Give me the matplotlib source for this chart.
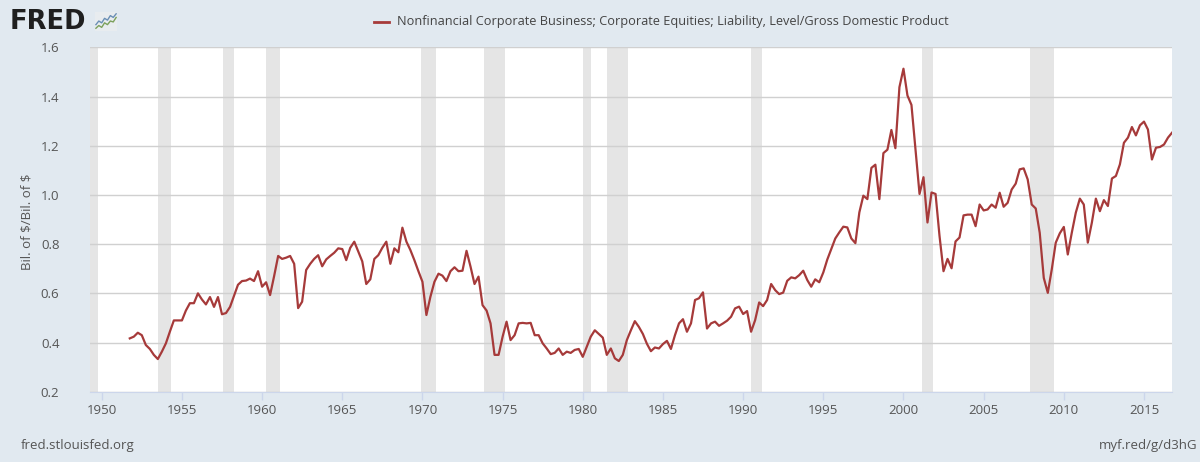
import matplotlib
matplotlib.use("Agg")
import matplotlib.pyplot as plt
import matplotlib.dates as mdates
import numpy as np
import pandas as pd

# quarterly values, 1951Q4 .. 2016Q4 (ratio of corporate equities to GDP)
start_quarter = "1951-10-01"
ratio = [
    0.417,
    0.424, 0.44, 0.43, 0.39,
    0.374, 0.35, 0.333, 0.363,
    0.397, 0.444, 0.49, 0.49,
    0.49, 0.53, 0.56, 0.56,
    0.60, 0.575, 0.555, 0.585,
    0.545, 0.585, 0.515, 0.52,
    0.545, 0.59, 0.635, 0.65,
    0.652, 0.66, 0.65, 0.69,
    0.627, 0.645, 0.593, 0.67,
    0.752, 0.74, 0.745, 0.752,
    0.72, 0.54, 0.566, 0.695,
    0.72, 0.74, 0.755, 0.71,
    0.738, 0.752, 0.765, 0.783,
    0.78, 0.735, 0.785, 0.81,
    0.77, 0.73, 0.638, 0.657,
    0.74, 0.755, 0.785, 0.81,
    0.72, 0.783, 0.767, 0.867,
    0.81, 0.776, 0.735, 0.69,
    0.647, 0.512, 0.586, 0.647,
    0.68, 0.672, 0.65, 0.69,
    0.706, 0.69, 0.692, 0.773,
    0.708, 0.638, 0.668, 0.552,
    0.53, 0.478, 0.35, 0.35,
    0.424, 0.485, 0.41, 0.43,
    0.478, 0.48, 0.478, 0.48,
    0.43, 0.43, 0.397, 0.376,
    0.353, 0.358, 0.376, 0.35,
    0.363, 0.358, 0.37, 0.374,
    0.342, 0.383, 0.424, 0.45,
    0.435, 0.42, 0.35, 0.376,
    0.336, 0.325, 0.35, 0.41,
    0.45, 0.487, 0.464, 0.435,
    0.395, 0.365, 0.38, 0.376,
    0.394, 0.407, 0.374, 0.43,
    0.478, 0.495, 0.444, 0.478,
    0.573, 0.58, 0.604, 0.457,
    0.478, 0.485, 0.468, 0.478,
    0.489, 0.505, 0.539, 0.546,
    0.516, 0.528, 0.444, 0.491,
    0.563, 0.548, 0.573, 0.638,
    0.613, 0.597, 0.603, 0.651,
    0.665, 0.661, 0.674, 0.692,
    0.654, 0.627, 0.657, 0.645,
    0.685, 0.737, 0.78, 0.823,
    0.848, 0.871, 0.868, 0.823,
    0.804, 0.929, 0.997, 0.983,
    1.11, 1.123, 0.983, 1.17,
    1.184, 1.264, 1.19, 1.438,
    1.513, 1.404, 1.366, 1.187,
    1.004, 1.072, 0.888, 1.01,
    1.004, 0.834, 0.69, 0.74,
    0.702, 0.811, 0.827, 0.917,
    0.92, 0.92, 0.873, 0.961,
    0.937, 0.941, 0.961, 0.948,
    1.009, 0.952, 0.968, 1.022,
    1.046, 1.104, 1.108, 1.063,
    0.961, 0.945, 0.846, 0.663,
    0.602, 0.697, 0.806, 0.844,
    0.87, 0.758, 0.846, 0.928,
    0.985, 0.961, 0.806, 0.887,
    0.985, 0.934, 0.979, 0.955,
    1.067, 1.077, 1.124, 1.212,
    1.233, 1.276, 1.242, 1.283,
    1.298, 1.266, 1.144, 1.192,
    1.195, 1.205, 1.233, 1.253,
]

# NBER recessions (peak month, trough month)
recessions = [
    ("1948-11-01", "1949-10-01"),
    ("1953-07-01", "1954-05-01"),
    ("1957-08-01", "1958-04-01"),
    ("1960-04-01", "1961-02-01"),
    ("1969-12-01", "1970-11-01"),
    ("1973-11-01", "1975-03-01"),
    ("1980-01-01", "1980-07-01"),
    ("1981-07-01", "1982-11-01"),
    ("1990-07-01", "1991-03-01"),
    ("2001-03-01", "2001-11-01"),
    ("2007-12-01", "2009-06-01"),
]

yticks = [0.2, 0.4, 0.6, 0.8, 1.0, 1.2, 1.4, 1.6]
series_name = "Nonfinancial Corporate Business; Corporate Equities; Liability, Level/Gross Domestic Product"
y_label = r"Bil. of \$/Bil. of \$"

# little FRED logo lines
logo_blue = [0.35, 0.55, 0.45, 0.7, 0.6, 0.85, 0.75, 0.95]
logo_green = [0.15, 0.3, 0.2, 0.45, 0.35, 0.55, 0.5, 0.75]

BG = "#e1e9f0"
LINE = "#a63a3a"
TXT = "#555555"

plt.rcParams['font.family'] = ['Open Sans', 'DejaVu Sans']

dates = pd.date_range(start_quarter, periods=len(ratio), freq="QS")

fig = plt.figure(figsize=(12, 4.62), dpi=100, facecolor=BG)
ax = fig.add_axes([0.075, 0.152, 0.9017, 0.7456])
ax.set_facecolor("white")

for s, e in recessions:
    ax.axvspan(pd.Timestamp(s), pd.Timestamp(e), color="#e5e5e5", lw=0, zorder=0)

ax.plot(dates, ratio, color=LINE, lw=1.6, zorder=3, solid_joinstyle="round")

ax.set_ylim(0.2, 1.6)
ax.set_yticks(yticks)
ax.set_yticklabels(["%.1f" % v for v in yticks])
ax.set_xlim(pd.Timestamp("1949-04-08"), dates[-1])
ax.xaxis.set_major_locator(mdates.YearLocator(5))
ax.xaxis.set_major_formatter(mdates.DateFormatter("%Y"))

ax.grid(axis="y", color="#d0d0d0", lw=1, zorder=1)
for sp in ["top", "right", "left"]:
    ax.spines[sp].set_visible(False)
ax.spines["bottom"].set_color("#ccd6eb")
ax.spines["bottom"].set_zorder(4)
ax.tick_params(axis="y", length=0, pad=22, labelsize=9.5, labelcolor=TXT)
ax.tick_params(axis="x", length=6, width=1, color="#ccd6eb", pad=3, labelsize=9.5, labelcolor=TXT)
for lab in ax.get_yticklabels():
    lab.set_horizontalalignment("right")

fig.text(0.0225, 0.52, y_label, rotation=90, ha="center", va="center", fontsize=9.5, color=TXT)

# legend / title
fig.add_artist(plt.Line2D([0.3117, 0.3245], [0.953, 0.953], color=LINE, lw=2, transform=fig.transFigure))
fig.text(0.3305, 0.953, series_name, ha="left", va="center", fontsize=9.15, color="#444444")

# FRED logo
fig.text(0.008, 0.953, "FRED", ha="left", va="center", fontsize=18.5, fontweight="heavy",
         color="#1f1f1f", family="DejaVu Sans")
lax = fig.add_axes([0.0792, 0.933, 0.0183, 0.041])
lax.set_facecolor("#e8ecef")
lax.plot(np.arange(len(logo_blue)), logo_blue, color="#6a8fb5", lw=1)
lax.plot(np.arange(len(logo_green)), logo_green, color="#7ba05b", lw=1)
lax.set_xlim(-0.3, len(logo_blue) - 0.7)
lax.set_ylim(0, 1.05)
lax.set_xticks([])
lax.set_yticks([])
for sp in lax.spines.values():
    sp.set_visible(False)

fig.text(0.0175, 0.022, "fred.stlouisfed.org", ha="left", va="bottom", fontsize=9.5, color=TXT)
fig.text(0.9975, 0.022, "myf.red/g/d3hG", ha="right", va="bottom", fontsize=9.5, color=TXT)

fig.savefig("out.png", dpi=100, facecolor=BG)
